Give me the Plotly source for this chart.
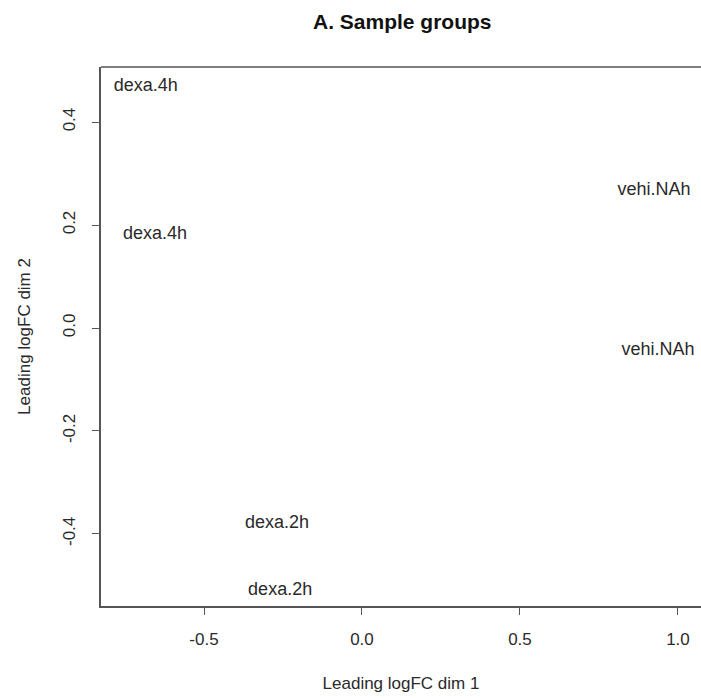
import plotly.graph_objects as go

labels = ["dexa.4h", "dexa.4h", "vehi.NAh", "vehi.NAh", "dexa.2h", "dexa.2h"]
dim1 = [-0.684, -0.655, 0.924, 0.937, -0.269, -0.259]
dim2 = [0.470, 0.181, 0.268, -0.043, -0.379, -0.509]

x_ticks = [-0.5, 0.0, 0.5, 1.0]
x_ticktext = ["-0.5", "0.0", "0.5", "1.0"]
y_ticks = [-0.4, -0.2, 0.0, 0.2, 0.4]
y_ticktext = ["-0.4", "-0.2", "0.0", "0.2", "0.4"]

font = "Liberation Sans, Arial, sans-serif"
axcol = "#555555"

fig = go.Figure()
fig.add_trace(go.Scatter(
    x=dim1, y=dim2, mode="text", text=labels,
    textposition="middle center",
    textfont=dict(family=font, size=18, color="#2a2a2a"),
    hoverinfo="skip", showlegend=False,
))

fig.update_layout(
    width=701, height=698,
    margin=dict(l=101, r=0, t=67, b=92),
    paper_bgcolor="white", plot_bgcolor="white",
    font=dict(family=font, size=17, color="#2a2a2a"),
    xaxis=dict(
        range=[-0.826, 1.073], tickvals=x_ticks, ticktext=x_ticktext,
        showgrid=False, zeroline=False, showline=True, linecolor=axcol, linewidth=1.5,
        ticks="outside", ticklen=7, tickcolor=axcol, tickwidth=1,
        ticklabelstandoff=10, tickfont=dict(size=17),
        title=dict(text="Leading logFC dim 1", standoff=29, font=dict(size=17)),
    ),
    yaxis=dict(
        range=[-0.540, 0.507], tickvals=y_ticks, ticktext=y_ticktext,
        showgrid=False, zeroline=False, showline=True, linecolor=axcol, linewidth=1.5,
        ticks="outside", ticklen=7, tickcolor=axcol, tickwidth=1,
        tickangle=-90, ticklabelstandoff=10, tickfont=dict(size=17),
        title=dict(text="Leading logFC dim 2", standoff=26, font=dict(size=17)),
    ),
    shapes=[dict(type="line", xref="paper", yref="paper", x0=0, x1=1, y0=1, y1=1,
                 line=dict(color=axcol, width=1.5))],
    annotations=[dict(text="<b>A. Sample groups</b>", xref="paper", yref="paper",
                      x=0.503, y=1, yshift=46, showarrow=False, xanchor="center",
                      yanchor="middle", font=dict(family=font, size=21, color="#111111"))],
)

fig.write_html("out.html")
